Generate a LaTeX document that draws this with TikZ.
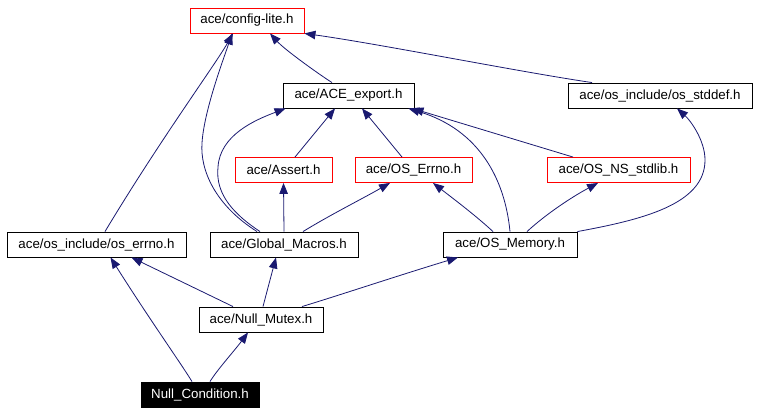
\documentclass[tikz,border=0pt]{standalone}
\usepackage{fontspec}
\setmainfont{Liberation Sans}
\usetikzlibrary{arrows.meta}
\definecolor{edgeblue}{HTML}{191970}
\tikzset{
  filebox/.style={draw=black, line width=0.9pt, rectangle, minimum height=25pt, inner sep=0pt, font=\fontsize{13.3}{15}\selectfont, text=black, fill=white},
  redbox/.style={filebox, draw=red},
  rootbox/.style={filebox, fill=black, text=white},
  dep/.style={draw=edgeblue, line width=0.8pt, -{Triangle[length=11pt,width=8.5pt]}, edgeblue},
}
\begin{document}
\begin{tikzpicture}[x=1pt,y=-1pt]
\useasboundingbox (0,0) rectangle (759,413);
% nodes
\node[redbox, minimum width=114pt] (cfg) at (247,20.5) {ace/config-lite.h};
\node[filebox, minimum width=131pt] (ace) at (348.5,95.5) {ace/ACE\_export.h};
\node[filebox, minimum width=184pt] (std) at (660,95.5) {ace/os\_include/os\_stddef.h};
\node[redbox, minimum width=97pt] (ast) at (283.5,170) {ace/Assert.h};
\node[redbox, minimum width=117pt] (err) at (413.5,170) {ace/OS\_Errno.h};
\node[redbox, minimum width=143pt] (nss) at (618.5,170) {ace/OS\_NS\_stdlib.h};
\node[filebox, minimum width=179pt] (oerr) at (96.5,244.5) {ace/os\_include/os\_errno.h};
\node[filebox, minimum width=148pt] (gm) at (284,244.5) {ace/Global\_Macros.h};
\node[filebox, minimum width=134pt] (mem) at (510,244.5) {ace/OS\_Memory.h};
\node[filebox, minimum width=124pt] (nm) at (261,319.5) {ace/Null\_Mutex.h};
\node[rootbox, minimum width=118pt] (nc) at (200,394.5) {Null\_Condition.h};
% edges
\draw[dep] ([xshift=-16.5pt]ace.north) .. controls (320,75) and (285,50) .. ([xshift=23pt]cfg.south);
\draw[dep] ([xshift=-68pt]std.north) .. controls (520,72) and (380,44) .. (cfg.south east);
\draw[dep] ([xshift=8.5pt]oerr.north) .. controls (160,140) and (215,65) .. ([xshift=-14pt]cfg.south);
\draw[dep] ([xshift=-27pt]gm.north) .. controls (215,205) and (200,170) .. (202,143) .. controls (204,110) and (225,55) .. ([xshift=-15pt]cfg.south);
\draw[dep] ([xshift=-24pt]gm.north) .. controls (235,215) and (215,195) .. (218,167) .. controls (220,135) and (255,120) .. ([xshift=3pt]ace.south west);
\draw[dep] ([xshift=11.5pt]ast.north) -- ([xshift=-13.5pt]ace.south);
\draw[dep] ([xshift=-11.5pt]err.north) -- ([xshift=13.5pt]ace.south);
\draw[dep] ([xshift=-45.5pt]nss.north) -- ([xshift=-2pt]ace.south east);
\draw[dep] (mem.north) .. controls (505,180) and (480,130) .. ([xshift=-6pt]ace.south east);
\draw[dep] (gm.north) -- (ast.south);
\draw[dep] ([xshift=19pt]gm.north) .. controls (330,215) and (360,200) .. ([xshift=-23.5pt]err.south);
\draw[dep] ([xshift=-17pt]mem.north) .. controls (475,215) and (455,200) .. ([xshift=19.5pt]err.south);
\draw[dep] ([xshift=17pt]mem.north) .. controls (545,215) and (570,198) .. ([xshift=-20.5pt]nss.south);
\draw[dep] (mem.north east) .. controls (640,220) and (705,205) .. (705,160) .. controls (705,140) and (690,120) .. ([xshift=17pt]std.south);
\draw[dep] ([xshift=-28pt]nm.north) -- ([xshift=35pt]oerr.south);
\draw[dep] ([xshift=2pt]nm.north) .. controls (266,295) and (270,280) .. ([xshift=-8pt]gm.south);
\draw[dep] ([xshift=41pt]nm.north) .. controls (340,295) and (400,275) .. ([xshift=-52pt]mem.south);
\draw[dep] ([xshift=-8pt]nc.north) .. controls (180,362) and (150,320) .. ([xshift=14pt]oerr.south);
\draw[dep] ([xshift=10pt]nc.north) .. controls (217,370) and (235,350) .. ([xshift=-13pt]nm.south);
\end{tikzpicture}
\end{document}
